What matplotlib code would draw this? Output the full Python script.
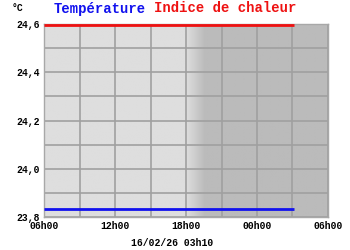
import numpy as np
import matplotlib.pyplot as plt

# heures depuis minuit le jour precedent (06h00 -> 6, 03h10 le lendemain -> 27.17)
heures = [6.0, 27.1667]
temperature = [23.833, 23.833]
indice_chaleur = [24.597, 24.597]

x_ticks = [6, 12, 18, 24, 30]
x_labels = ['06h00', '12h00', '18h00', '00h00', '06h00']
y_ticks = [23.8, 24.0, 24.2, 24.4, 24.6]
y_labels = ['23,8', '24,0', '24,2', '24,4', '24,6']

font = ['Liberation Mono', 'DejaVu Sans Mono']

fig = plt.figure(figsize=(3.5, 2.5), dpi=100)
ax = fig.add_axes([0.126, 0.132, 0.811, 0.772])

# fond jour / nuit avec degrade
xs = np.linspace(6, 30, 600)
light, dark = 0xde / 255, 0xbb / 255
t = np.clip((xs - 18.0) / 1.6, 0, 1)
vals = light + (dark - light) * t
img = np.repeat(vals[None, :, None], 3, axis=2)
ax.imshow(img, extent=[6, 30, 23.8, 24.6], aspect='auto', zorder=0,
          interpolation='bilinear')

ax.set_xlim(6, 30)
ax.set_ylim(23.8, 24.6)
ax.set_xticks(x_ticks)
ax.set_xticklabels(x_labels)
ax.set_xticks(np.arange(6, 31, 3), minor=True)
ax.set_yticks(y_ticks)
ax.set_yticklabels(y_labels)
ax.set_yticks(np.arange(23.8, 24.61, 0.1), minor=True)
ax.grid(True, which='both', color='#a0a0a0', linewidth=1.2, zorder=1)
ax.tick_params(which='both', length=0, pad=3)
for lab in ax.get_xticklabels() + ax.get_yticklabels():
    lab.set_family(font)
    lab.set_fontweight('bold')
    lab.set_fontsize(7)
for s in ax.spines.values():
    s.set_color('#a8a8a8')
    s.set_linewidth(1)

ax.plot(heures, indice_chaleur, color='#ee1111', linewidth=2, zorder=3,
        solid_capstyle='butt')
ax.plot(heures, temperature, color='#1111ee', linewidth=2, zorder=3,
        solid_capstyle='butt')

fig.text(0.034, 0.968, '°C', family=font, fontweight='bold', fontsize=7,
         va='center', ha='left')
fig.text(0.286, 0.966, 'Température', family=font, fontweight='bold',
         fontsize=10, color='#1111ee', ha='center', va='center')
fig.text(0.643, 0.966, 'Indice de chaleur', family=font, fontweight='bold',
         fontsize=10, color='#ee1111', ha='center', va='center')
fig.text(0.493, 0.026, '16/02/26 03h10', family=font, fontweight='bold',
         fontsize=7, ha='center', va='center')

fig.savefig('out.png', dpi=100)
